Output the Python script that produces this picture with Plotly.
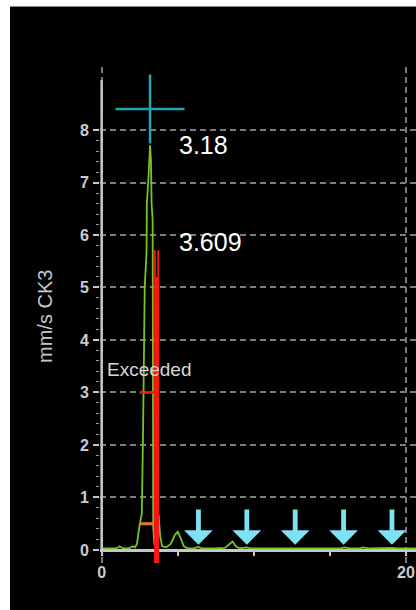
import plotly.graph_objects as go

# Velocity spectrum: frequency (Hz) and amplitude (mm/s)
FREQ = [0.00, 0.60, 0.95, 1.18, 1.40, 1.80, 2.05, 2.20, 2.32, 2.48, 2.64, 2.72,
        2.83, 2.95, 2.97, 3.08, 3.15, 3.18, 3.24, 3.28, 3.35, 3.39, 3.46, 3.56,
        3.66, 3.74, 3.85, 3.98, 4.25, 4.55, 4.80, 5.00, 5.20, 5.40, 5.65, 6.05,
        6.32, 6.60, 7.40, 8.10, 8.35, 8.60, 8.85, 9.10, 9.50, 9.80, 11.50, 12.70,
        13.20, 15.70, 15.95, 16.30, 16.95, 17.20, 17.50, 19.10, 19.40, 20.66]
AMP = [0.03, 0.03, 0.03, 0.07, 0.03, 0.03, 0.07, 0.05, 0.12, 0.45, 0.70, 2.25,
       5.00, 5.70, 6.60, 7.10, 7.50, 7.71, 7.42, 6.60, 6.30, 0.45, 0.12, 0.05,
       0.10, 0.68, 0.25, 0.07, 0.05, 0.12, 0.28, 0.35, 0.22, 0.07, 0.03, 0.03,
       0.06, 0.03, 0.03, 0.04, 0.10, 0.16, 0.06, 0.03, 0.05, 0.03, 0.03, 0.04,
       0.03, 0.03, 0.05, 0.03, 0.03, 0.05, 0.03, 0.04, 0.03, 0.03]

# Peak cursor
PEAK_F = 3.18
PEAK_AMP = 7.71
CURSOR_Y = 8.4

# Limit line and alarm threshold
LIMIT_F = 3.609
LIMIT_BOTTOM = -0.25
LIMIT_SOLID_TOP = 5.2
LIMIT_TOP = 5.71
THRESHOLD = 3.0
THRESHOLD_START = 2.5

# Bandwidth marker
BAND_LEVEL = 0.5
BAND_F = [2.5, 3.37]

# Harmonic markers (2x .. 6x)
HARMONIC_F = [6.36, 9.54, 12.72, 15.90, 19.08]
ARROW_TIP = 0.1
ARROW_TAIL = 0.8

# Axes
X_RANGE = [-0.11, 20.66]
Y_RANGE = [-0.305, 9.2]
Y_AXIS_TOP = 8.95
X_TICKS = [0, 20]
X_MINOR = [5, 10, 15]
Y_TICKS = [0, 1, 2, 3, 4, 5, 6, 7, 8]
Y_MINOR = [i / 5 for i in range(1, 40) if i % 5]
Y_TITLE = "mm/s CK3"
ALARM_TEXT = "Exceeded"

W, H = 416, 610
M_L, M_R, M_T, M_B = 100, 0, 67, 44
PLOT_W = W - M_L - M_R
PLOT_H = H - M_T - M_B


def px_x(px):
    return (px - M_L) / PLOT_W


def px_y(py):
    return (H - M_B - py) / PLOT_H


FONT = "Liberation Sans, Arial, sans-serif"
AXIS_GREY = "#c4c8cc"
GREEN = "#74c425"
CYAN = "#7fe2f2"
TEAL = "#1fa7ae"
RED = "#ff1414"
ORANGE = "#e8781e"

fig = go.Figure()

fig.add_trace(go.Scatter(
    x=FREQ, y=AMP, mode="lines",
    line=dict(color=GREEN, width=1.8),
    hoverinfo="skip", showlegend=False,
))

# crosshair on the peak (cross-thin arms reach 1.4 x the marker radius)
fig.add_trace(go.Scatter(
    x=[PEAK_F], y=[CURSOR_Y], mode="markers",
    marker=dict(symbol="cross-thin", size=69 / 1.4,
                line=dict(color=TEAL, width=2.5)),
    hoverinfo="skip", showlegend=False,
))

shapes = []
# frame: white strips left and top
shapes.append(dict(type="rect", xref="paper", yref="paper",
                   x0=px_x(0), x1=px_x(10), y0=px_y(H), y1=px_y(0),
                   fillcolor="white", line=dict(width=0), layer="above"))
shapes.append(dict(type="rect", xref="paper", yref="paper",
                   x0=px_x(0), x1=px_x(W), y0=px_y(6), y1=px_y(0),
                   fillcolor="white", line=dict(width=0), layer="above"))
shapes.append(dict(type="line", xref="paper", yref="paper",
                   x0=px_x(10), x1=px_x(W), y0=px_y(6.5), y1=px_y(6.5),
                   line=dict(color="#888888", width=1)))
# y axis line
shapes.append(dict(type="line", xref="x", yref="y",
                   x0=0, x1=0, y0=0, y1=Y_AXIS_TOP,
                   line=dict(color=AXIS_GREY, width=2.5), layer="above"))
# limit line
shapes.append(dict(type="line", xref="x", yref="y",
                   x0=LIMIT_F, x1=LIMIT_F, y0=LIMIT_BOTTOM, y1=LIMIT_TOP,
                   line=dict(color=RED, width=5), layer="above"))
shapes.append(dict(type="line", xref="x", yref="y",
                   x0=LIMIT_F, x1=LIMIT_F, y0=LIMIT_SOLID_TOP, y1=LIMIT_TOP,
                   line=dict(color="black", width=1.5), layer="above"))
# alarm threshold tick
shapes.append(dict(type="line", xref="x", yref="y",
                   x0=THRESHOLD_START, x1=LIMIT_F, y0=THRESHOLD, y1=THRESHOLD,
                   line=dict(color=RED, width=2.5), layer="above"))
# bandwidth marker
shapes.append(dict(type="line", xref="x", yref="y",
                   x0=BAND_F[0], x1=BAND_F[1], y0=BAND_LEVEL, y1=BAND_LEVEL,
                   line=dict(color=ORANGE, width=3), layer="above"))

annotations = []
for hf in HARMONIC_F:
    annotations.append(dict(
        x=hf, y=ARROW_TIP, xref="x", yref="y",
        ax=hf, ay=ARROW_TAIL, axref="x", ayref="y",
        text="", showarrow=True, arrowhead=1, arrowsize=1.0,
        arrowwidth=4.8, arrowcolor=CYAN, standoff=0,
    ))

annotations.append(dict(
    x=4.93, y=PEAK_AMP, xref="x", yref="y", xanchor="left", yanchor="middle",
    text=f"{PEAK_F}", showarrow=False,
    font=dict(family=FONT, size=25, color="white"),
))
annotations.append(dict(
    x=4.93, y=5.87, xref="x", yref="y", xanchor="left", yanchor="middle",
    text=f"{LIMIT_F}", showarrow=False,
    font=dict(family=FONT, size=25, color="white"),
))
annotations.append(dict(
    x=0.2, y=3.43, xref="x", yref="y", xanchor="left", yanchor="middle",
    text=ALARM_TEXT, showarrow=False,
    font=dict(family=FONT, size=19, color="#d4d6d8"),
))
annotations.append(dict(
    x=px_x(45), y=px_y(316), xref="paper", yref="paper",
    xanchor="center", yanchor="middle", textangle=-90,
    text=Y_TITLE, showarrow=False,
    font=dict(family=FONT, size=20, color="#c4c8cc"),
))

x_axis_pos = (0 - Y_RANGE[0]) / (Y_RANGE[1] - Y_RANGE[0])

fig.update_layout(
    width=W, height=H,
    margin=dict(l=M_L, r=M_R, t=M_T, b=M_B, pad=0),
    paper_bgcolor="black", plot_bgcolor="black",
    showlegend=False,
    shapes=shapes,
    annotations=annotations,
    xaxis=dict(
        range=X_RANGE, anchor="free", position=x_axis_pos,
        tickmode="array", tickvals=X_TICKS, ticktext=[str(t) for t in X_TICKS],
        ticks="outside", ticklen=4, tickwidth=1.5, tickcolor=AXIS_GREY,
        ticklabelstandoff=3,
        minor=dict(tickvals=X_MINOR, ticks="outside", ticklen=4,
                   tickwidth=1.5, tickcolor=AXIS_GREY, showgrid=False),
        showline=True, linecolor=AXIS_GREY, linewidth=2.5,
        showgrid=True, gridcolor="#7c7c7c", gridwidth=1.5, griddash="6px,4px",
        zeroline=False, layer="below traces",
        tickfont=dict(family=FONT, size=16, color="#c8ccd2", weight="bold"),
    ),
    yaxis=dict(
        range=Y_RANGE,
        tickmode="array", tickvals=Y_TICKS, ticktext=[str(t) for t in Y_TICKS],
        ticks="outside", ticklen=6, tickwidth=1.5, tickcolor=AXIS_GREY,
        ticklabelstandoff=1,
        minor=dict(tickvals=Y_MINOR, ticks="outside", ticklen=3,
                   tickwidth=1.2, tickcolor="#9a9ea2", showgrid=False),
        showline=False,
        showgrid=True, gridcolor="#7c7c7c", gridwidth=1.5, griddash="6px,4px",
        zeroline=False, layer="below traces",
        tickfont=dict(family=FONT, size=16, color="#c8ccd2", weight="bold"),
    ),
)

fig.write_html("out.html")
